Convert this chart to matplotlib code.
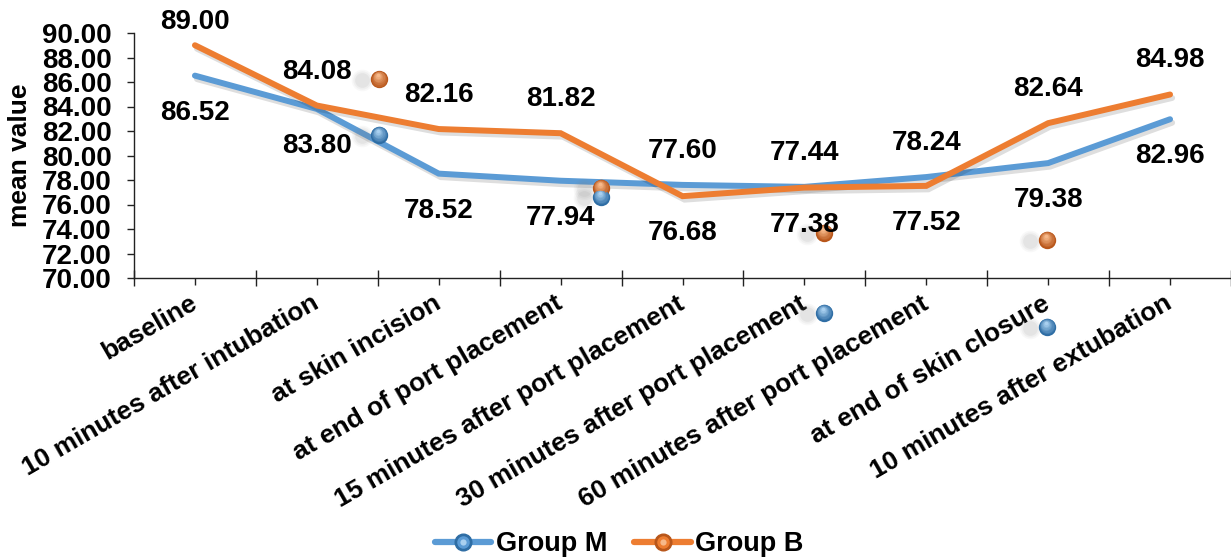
import numpy as np
import matplotlib
matplotlib.use("Agg")
import matplotlib.pyplot as plt
import matplotlib.patheffects as pe
from matplotlib.transforms import ScaledTranslation
from matplotlib.lines import Line2D
from matplotlib.legend_handler import HandlerTuple
from matplotlib.colors import to_rgb

plt.rcParams['font.family'] = ['Liberation Sans', 'DejaVu Sans']
plt.rcParams['font.weight'] = 'bold'

stages = ["baseline", "10 minutes after intubation", "at skin incision",
          "at end of port placement", "15 minutes after port placement",
          "30 minutes after port placement", "60 minutes after port placement",
          "at end of skin closure", "10 minutes after extubation"]
group_m = [86.52, 83.80, 78.52, 77.94, 77.60, 77.44, 78.24, 79.38, 82.96]
group_b = [89.00, 84.08, 82.16, 81.82, 76.68, 77.38, 77.52, 82.64, 84.98]

# loose sphere markers left on the plot area (category position, value)
loose_x = [1.51, 3.33, 5.16, 6.99]
loose_m = [81.67, 76.61, 67.14, 66.00]
loose_b = [86.24, 77.35, 73.67, 73.10]

blue = "#5B9BD5"
orange = "#ED7D31"
DPI = 100

fig = plt.figure(figsize=(12.31, 5.57), dpi=DPI)
ax = fig.add_axes([134 / 1231, 279 / 557, 1097 / 1231, 245 / 557])
x = np.arange(len(stages))

ax.set_xlim(-0.5, len(stages) - 0.5)
ax.set_ylim(70, 90)


def mix(c1, c2, f):
    a, b = np.array(to_rgb(c1)), np.array(to_rgb(c2))
    return tuple(a + (b - a) * f)


def sphere(xv, yv, dark, light, size=12.5, z=6):
    # soft drop shadow to the left
    for k, a in enumerate([0.05, 0.07, 0.09]):
        tr = ax.transData + ScaledTranslation(-12 / 72, -1 / 72, fig.dpi_scale_trans)
        ax.plot([xv], [yv], 'o', ms=size * (1.25 - 0.2 * k), color='gray', alpha=a,
                mew=0, transform=tr, clip_on=False, zorder=z - 1)
    n = 8
    for k in range(n):
        f = k / (n - 1)
        s = size * (1 - 0.8 * f)
        shift = (size - s) / 2 * 0.55
        tr = ax.transData + ScaledTranslation(-shift * 0.3 / 72, shift / 72, fig.dpi_scale_trans)
        ax.plot([xv], [yv], 'o', ms=s, color=mix(dark, light, f), mew=0,
                transform=tr, clip_on=False, zorder=z + k * 0.01)


shadow = [pe.SimpleLineShadow(offset=(1.5, -2.5), shadow_color='black', alpha=0.13), pe.Normal()]
ax.plot(x, group_m, color=blue, lw=4.3, solid_joinstyle='miter', solid_capstyle='round',
        path_effects=shadow, zorder=3)
ax.plot(x, group_b, color=orange, lw=4.3, solid_joinstyle='miter', solid_capstyle='round',
        path_effects=shadow, zorder=4)

# value labels: the higher series of each pair above, the other below;
# labels are kept inside the figure at the top
fig_h = fig.get_figheight() * DPI
for i in range(len(stages)):
    for v, other in ((group_m[i], group_b[i]), (group_b[i], group_m[i])):
        if v >= other:
            py = ax.transData.transform((x[i], v))[1]
            dy_px = min(34, fig_h - 22 - py)
        else:
            dy_px = -37
        ax.annotate(f"{v:.2f}", (x[i], v), xytext=(0, dy_px * 72 / DPI),
                    textcoords='offset points', ha='center', va='center',
                    fontsize=20, fontweight='bold', annotation_clip=False, zorder=7)

for xi, ym, yb in zip(loose_x, loose_m, loose_b):
    sphere(xi, ym, "#2E6DA4", "#A9D0F0")
    sphere(xi, yb, "#B8561A", "#F7B98A")

ax.set_yticks(np.arange(70, 91, 2))
ax.set_yticklabels([f"{t:.2f}" for t in np.arange(70, 91, 2)])
ax.set_xticks(x)
ax.set_xticklabels(stages)
ax.set_xticks(np.arange(-0.5, len(stages), 1), minor=True)

for s in ('top', 'right'):
    ax.spines[s].set_visible(False)
for s in ('left', 'bottom'):
    ax.spines[s].set_color('#222222')
    ax.spines[s].set_linewidth(1)

ax.tick_params(axis='y', direction='out', length=5, width=1, color='#222222',
               labelsize=20, pad=11)
ax.tick_params(axis='x', which='major', direction='out', length=5, width=1,
               color='#222222', labelsize=19, pad=12)
ax.tick_params(axis='x', which='minor', direction='inout', length=11, width=1,
               color='#222222')
for lab in ax.get_xticklabels():
    lab.set_rotation(30)
    lab.set_rotation_mode('anchor')
    lab.set_ha('right')
    lab.set_va('center')
for lab in ax.get_yticklabels() + ax.get_xticklabels():
    lab.set_fontweight('bold')

ax.set_ylabel("mean value", fontsize=19, fontweight='bold')
ax.yaxis.set_label_coords(-0.093, 0.5)


def legend_handle(color, dark, light):
    base = Line2D([], [], color=color, lw=4.5, marker='o', ms=12,
                  mfc=dark, mec=dark, solid_capstyle='round')
    mid = Line2D([], [], ls='none', marker='o', ms=9, mfc=color, mew=0)
    hi = Line2D([], [], ls='none', marker='o', ms=4.5, mfc=light, mew=0)
    return (base, mid, hi)


handles = [legend_handle(blue, "#2E6DA4", "#A9D0F0"),
           legend_handle(orange, "#B8561A", "#F7B98A")]
fig.legend(handles, ["Group M", "Group B"], loc='center',
           bbox_to_anchor=(619 / 1231, 13 / 557), ncol=2, frameon=False,
           handler_map={tuple: HandlerTuple(ndivide=1)},
           prop={'size': 19.5, 'weight': 'bold'}, handlelength=2.1,
           handletextpad=0.15, columnspacing=1.0)

fig.savefig("out.png", dpi=DPI)
